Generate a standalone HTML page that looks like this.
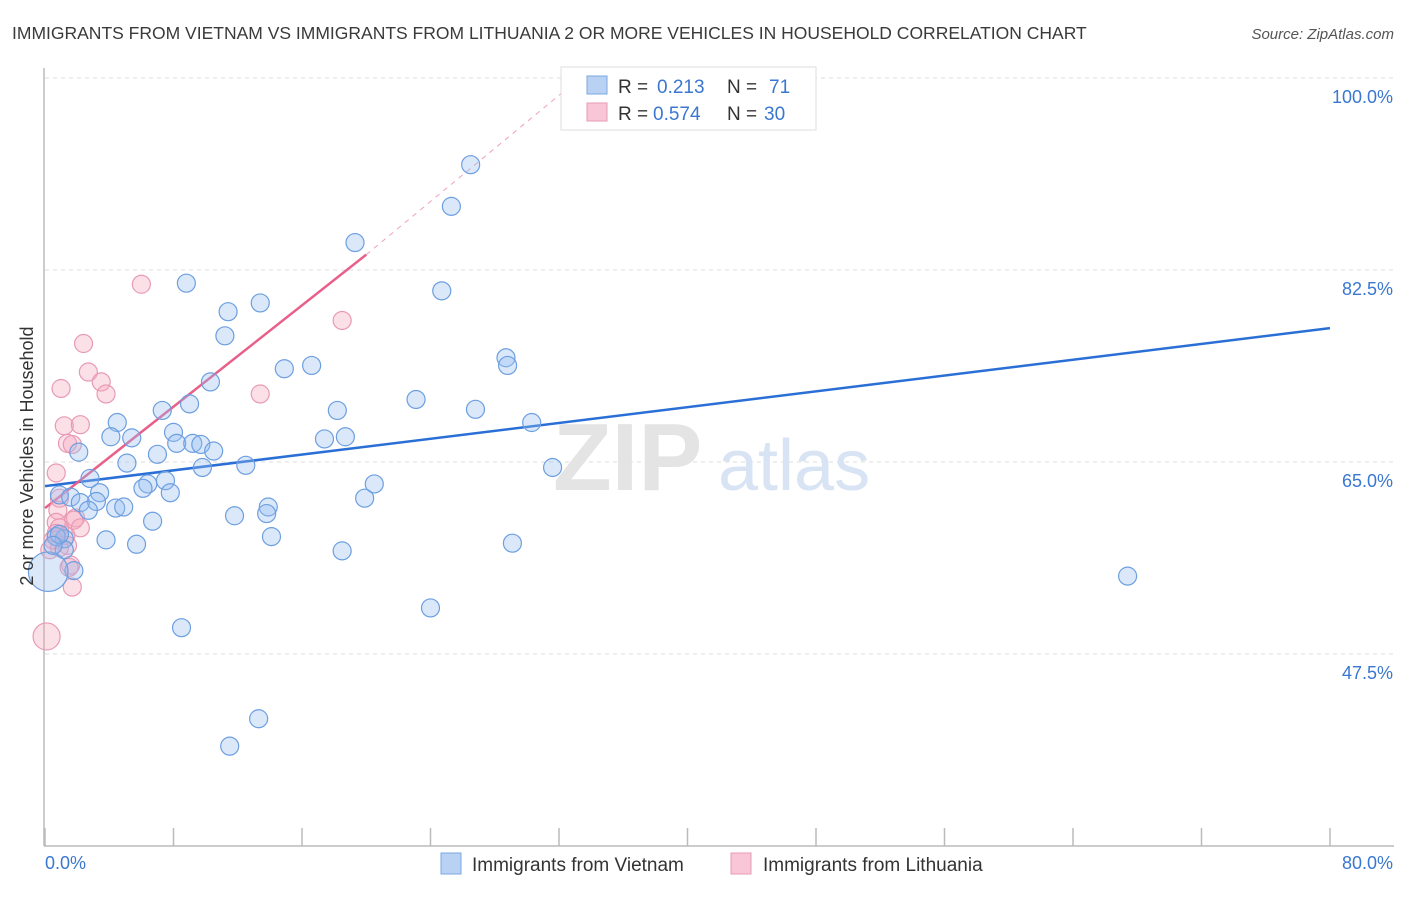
<!DOCTYPE html>
<html><head><meta charset="utf-8">
<style>
body{margin:0;background:#fff;font-family:"Liberation Sans",sans-serif;}
svg text{font-family:"Liberation Sans",sans-serif;}
</style></head>
<body>
<svg id="chart" width="1406" height="892" viewBox="0 0 1406 892" xmlns="http://www.w3.org/2000/svg">
<text x="12" y="39" font-size="17.5" fill="#3a3a3a">IMMIGRANTS FROM VIETNAM VS IMMIGRANTS FROM LITHUANIA 2 OR MORE VEHICLES IN HOUSEHOLD CORRELATION CHART</text>
<text x="1394" y="39" font-size="15" fill="#555" font-style="italic" text-anchor="end">Source: ZipAtlas.com</text>
<g id="grid"></g>
<g>
<text x="553" y="490" font-size="96" fill="#e4e4e4" font-family="Liberation Serif" font-weight="bold">ZIP</text>
<text x="718" y="490" font-size="72" fill="#d8e4f4">atlas</text>
</g>
<g id="axes"></g>
<g id="lines"></g>
<g id="points"></g>
<text transform="translate(33,456) rotate(-90)" font-size="18" fill="#333" text-anchor="middle">2 or more Vehicles in Household</text>
<g>
<rect x="561" y="67" width="255" height="63" fill="#fff" stroke="#ddd"/>
<rect x="587" y="76" width="20" height="18" fill="#b9d1f3" stroke="#7ba8e0"/>
<text x="618" y="93" font-size="19" fill="#333">R = </text><text x="657" y="93" font-size="19" fill="#3a77d0">0.213</text>
<text x="727" y="93" font-size="19" fill="#333">N = </text><text x="769" y="93" font-size="19" fill="#3a77d0">71</text>
<rect x="587" y="103" width="20" height="18" fill="#f8c6d6" stroke="#e89ab5"/>
<text x="618" y="120" font-size="19" fill="#333">R = </text><text x="653" y="120" font-size="19" fill="#3a77d0">0.574</text>
<text x="727" y="120" font-size="19" fill="#333">N = </text><text x="764" y="120" font-size="19" fill="#3a77d0">30</text>
</g>
<g>
<rect x="441" y="853" width="20" height="21" fill="#b9d1f3" stroke="#7ba8e0"/>
<text x="472" y="871" font-size="19" fill="#333">Immigrants from Vietnam</text>
<rect x="731" y="853" width="20" height="21" fill="#f8c6d6" stroke="#e89ab5"/>
<text x="763" y="871" font-size="19" fill="#333">Immigrants from Lithuania</text>
</g>
</svg>
<script>
const xTicks=[0,8,16,24,32,40,48,56,64,72,80];
const yTicks=[47.5,65,82.5,100];
const yTickLabels=["47.5%","65.0%","82.5%","100.0%"];
const xTickLabels=["0.0%","80.0%"];
const vietnamX=[26.5,25.3,19.3,8.8,24.7,11.4,13.4,11.2,28.7,28.8,16.6,14.9,10.3,23.1,26.8,18.2,9.0,7.3,30.3,4.5,4.1,5.4,8.0,8.2,9.2,9.7,17.4,18.7,10.5,2.1,7.0,5.1,12.5,9.8,31.6,2.8,6.4,7.5,6.1,20.5,7.8,0.9,1.6,3.4,19.9,3.2,2.2,2.7,4.4,4.9,13.9,13.8,11.8,6.7,3.8,5.7,14.1,1.2,29.1,18.5,1.2,1.8,67.4,24.0,8.5,13.3,11.5,0.2,0.7,0.9,0.5];
const vietnamY=[92.1,88.3,85.0,81.3,80.6,78.7,79.5,76.5,74.5,73.8,73.8,73.5,72.3,70.7,69.8,69.7,70.3,69.7,68.6,68.6,67.3,67.2,67.7,66.7,66.7,66.6,67.1,67.3,66.0,65.9,65.7,64.9,64.7,64.5,64.5,63.5,63.0,63.3,62.6,63.0,62.2,62.0,61.8,62.2,61.7,61.4,61.3,60.6,60.8,60.9,60.9,60.3,60.1,59.6,57.9,57.5,58.2,58.0,57.6,56.9,57.0,55.1,54.6,51.7,49.9,41.6,39.1,55.0,58.2,58.4,57.4];
const vietnamSize=[1,1,1,1,1,1,1,1,1,1,1,1,1,1,1,1,1,1,1,1,1,1,1,1,1,1,1,1,1,1,1,1,1,1,1,1,1,1,1,1,1,1,1,1,1,1,1,1,1,1,1,1,1,1,1,1,1,1,1,1,1,1,1,1,1,1,1,2.2,1,1,1];
const lithuaniaX=[6.0,18.5,2.4,1.0,2.7,3.5,3.8,13.4,1.2,2.2,1.4,1.7,0.7,0.9,0.8,0.7,1.9,1.8,0.9,2.2,1.3,1.4,0.3,0.9,1.6,1.5,1.7,0.1,0.5,0.7];
const lithuaniaY=[81.2,77.9,75.8,71.7,73.2,72.3,71.2,71.2,68.3,68.4,66.7,66.6,64.0,61.7,60.6,59.5,59.9,59.7,59.0,59.0,58.3,57.4,57.0,57.2,55.6,55.4,53.6,49.1,57.9,58.5];
const lithuaniaSize=[1,1,1,1,1,1,1,1,1,1,1,1,1,1,1,1,1,1,1,1,1,1,1,1,1,1,1,1.5,1,1];
const vietnamTrend=[[0,62.8],[80,77.2]];
const lithuaniaTrend=[[0,60.8],[20,83.9]];
const lithuaniaTrendExt=[[20,83.9],[33.3,100]];

const NS="http://www.w3.org/2000/svg";
const sx=v=>45+v*(1285/80);
const sy=v=>462-(v-65)*(192/17.5);
function mk(tag,attrs,parent){const e=document.createElementNS(NS,tag);for(const k in attrs)e.setAttribute(k,attrs[k]);parent.appendChild(e);return e;}
const grid=document.getElementById('grid'),axes=document.getElementById('axes'),lines=document.getElementById('lines'),pts=document.getElementById('points');
yTicks.forEach((t,i)=>{
 const l=mk('line',{x1:45,x2:1394,y1:sy(t),y2:sy(t),stroke:'#dcdcdc','stroke-dasharray':'4,4'},grid);
 
 
 const tx=mk('text',{x:1393,y:sy(t)+25,'font-size':18,fill:'#3a77d0','text-anchor':'end'},axes);
 tx.textContent=yTickLabels[i];
 
 
});
const ya=mk('line',{x1:44,x2:44,y1:68,y2:846,stroke:'#bbb','stroke-width':1.5},axes);


const xa=mk('line',{x1:44,x2:1394,y1:846,y2:846,stroke:'#bbb','stroke-width':1.5},axes);


xTicks.forEach(t=>{
 const tk=mk('line',{x1:sx(t),x2:sx(t),y1:828,y2:846,stroke:'#bbb','stroke-width':1.5},axes);
 
 
});
[[0,'start',45],[80,'end',1393]].forEach((p,i)=>{
 const tx=mk('text',{x:p[2],y:869,'font-size':18,fill:'#3a77d0','text-anchor':p[1]},axes);
 tx.textContent=xTickLabels[i];
 
 
});
function drawPts(X,Y,S,fill,stroke,name){
 X.forEach((x,i)=>{
  const c=mk('circle',{cx:sx(x),cy:sy(Y[i]),r:9*S[i],fill:fill,stroke:stroke,'stroke-width':1.2},pts);
  
  
 });
}
drawPts(lithuaniaX,lithuaniaY,lithuaniaSize,'rgba(245,165,190,0.35)','#e89ab5','point-lithuania');
drawPts(vietnamX,vietnamY,vietnamSize,'rgba(150,190,240,0.35)','#6d9fe0','point-vietnam');
const lb=mk('line',{x1:sx(vietnamTrend[0][0]),y1:sy(vietnamTrend[0][1]),x2:sx(vietnamTrend[1][0]),y2:sy(vietnamTrend[1][1]),stroke:'#2a6fd6','stroke-width':2.5},lines);


const lp=mk('line',{x1:sx(lithuaniaTrend[0][0]),y1:sy(lithuaniaTrend[0][1]),x2:sx(lithuaniaTrend[1][0]),y2:sy(lithuaniaTrend[1][1]),stroke:'#e8608a','stroke-width':2.5},lines);


const le=mk('line',{x1:sx(lithuaniaTrendExt[0][0]),y1:sy(lithuaniaTrendExt[0][1]),x2:sx(lithuaniaTrendExt[1][0]),y2:sy(lithuaniaTrendExt[1][1]),stroke:'#f0a0b8','stroke-width':1,'stroke-dasharray':'5,5'},lines);


</script>
</body></html>
